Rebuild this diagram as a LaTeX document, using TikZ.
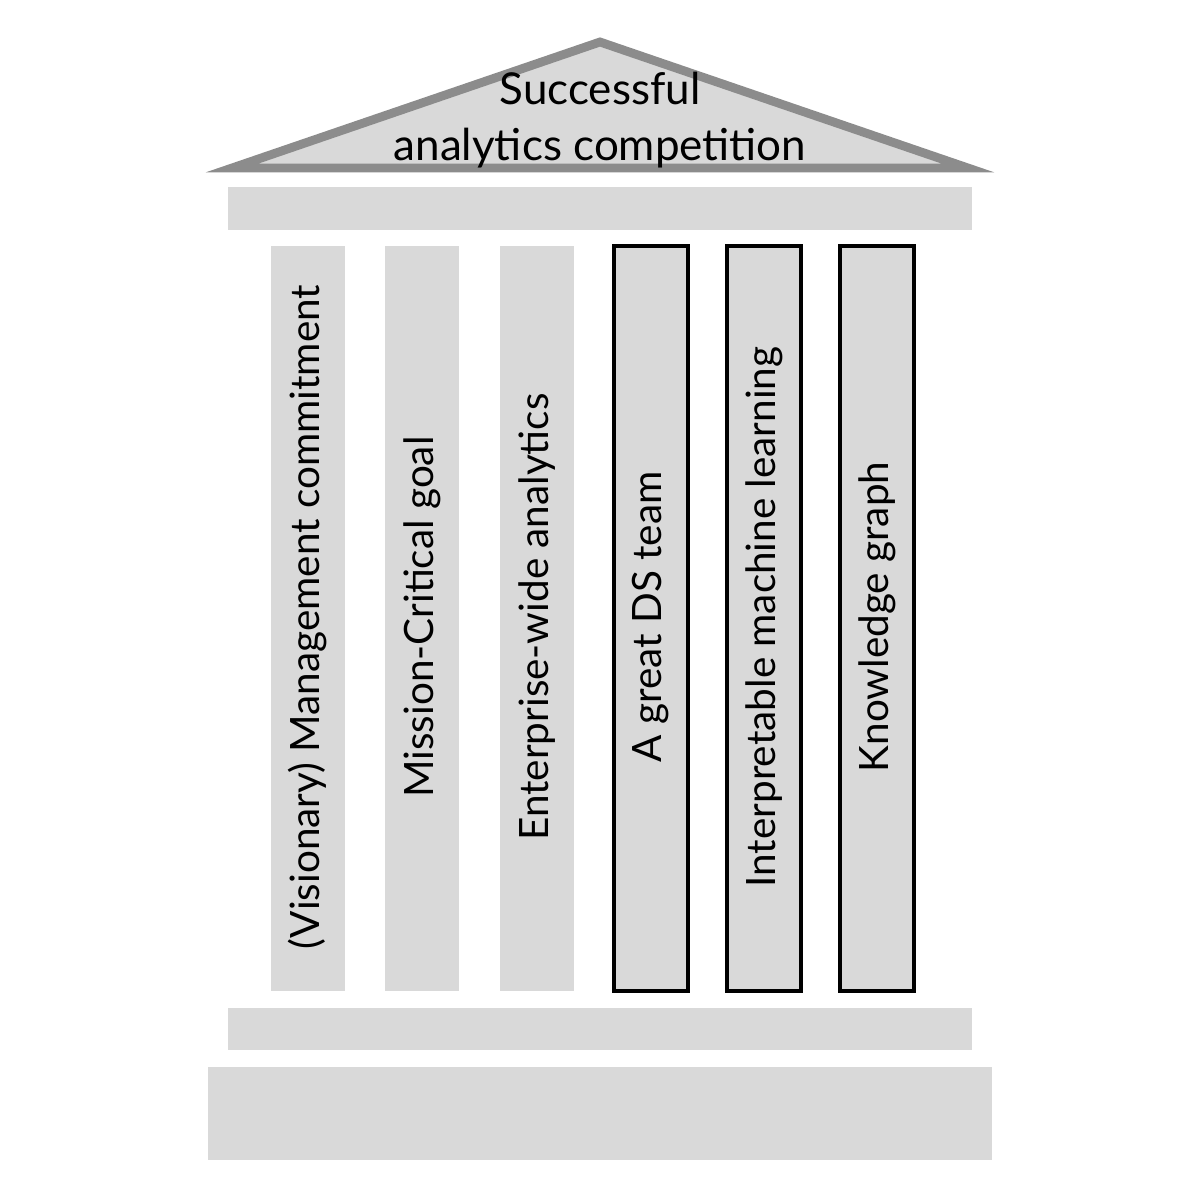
\documentclass[tikz,border=0pt]{standalone}
\usepackage{fontspec}
\setmainfont{Lato}
\begin{document}
\begin{tikzpicture}[x=0.01cm,y=-0.01cm,
  block/.style={fill=black!15,draw=none},
  pillar/.style={fill=black!15,draw=none},
  hpillar/.style={fill=black!15,draw=black,line width=1.3pt},
  lab/.style={font=\fontsize{11.5}{14}\selectfont,rotate=90}]
\useasboundingbox (0,0) rectangle (1200,1200);
\fill[white] (0,0) rectangle (1200,1200);
\draw[fill=black!15,draw=black!45,line width=2.5pt,line join=miter] (232,168) -- (600,42) -- (968,168) -- cycle;
\node[align=center,font=\fontsize{12.5}{16}\selectfont] (roof) at (600,120) {Successful\\analytics competition};
\fill[block] (228,187) rectangle (972,230);
\fill[block] (228,1008) rectangle (972,1050);
\fill[block] (208,1067) rectangle (992,1160);
\foreach \x/\t/\s/\n in {271/{(Visionary) Management commitment}/pillar/p1,385/{Mission-Critical goal}/pillar/p2,500/{Enterprise-wide analytics}/pillar/p3,614/{A great DS team}/hpillar/p4,727/{Interpretable machine learning}/hpillar/p5,840/{Knowledge graph}/hpillar/p6}{
  \path[\s] (\x,246) rectangle ++(74,745);
  \node[lab] (\n) at (\x+37,617) {\t};
}
\end{tikzpicture}
\end{document}
